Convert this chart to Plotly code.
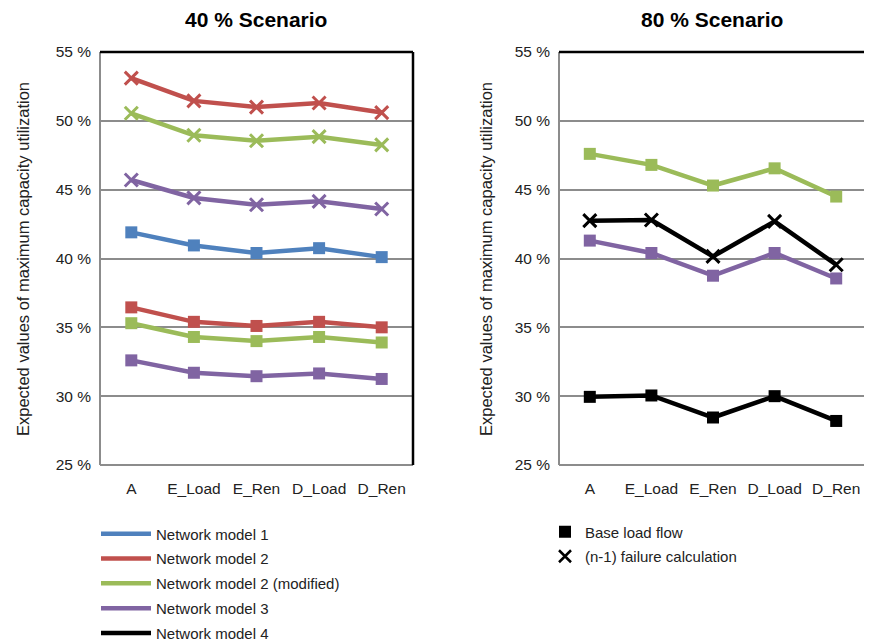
import plotly.graph_objects as go

categories = ["A", "E_Load", "E_Ren", "D_Load", "D_Ren"]

# 40 % scenario
s40_nm1_base = [41.9, 40.95, 40.4, 40.75, 40.1]
s40_nm2_base = [36.45, 35.4, 35.1, 35.4, 35.0]
s40_nm2m_base = [35.3, 34.3, 34.0, 34.3, 33.9]
s40_nm3_base = [32.6, 31.7, 31.45, 31.65, 31.25]
s40_nm2_n1 = [53.1, 51.45, 51.0, 51.3, 50.6]
s40_nm2m_n1 = [50.55, 48.95, 48.55, 48.85, 48.25]
s40_nm3_n1 = [45.7, 44.4, 43.9, 44.15, 43.6]

# 80 % scenario
s80_nm2m_base = [47.6, 46.8, 45.3, 46.55, 44.5]
s80_nm3_base = [41.3, 40.4, 38.75, 40.4, 38.55]
s80_nm4_base = [29.95, 30.05, 28.45, 30.0, 28.2]
s80_nm4_n1 = [42.75, 42.8, 40.15, 42.7, 39.55]

legend_models = ["Network model 1", "Network model 2", "Network model 2 (modified)",
                 "Network model 3", "Network model 4"]
legend_calc = ["Base load flow", "(n-1) failure calculation"]

yticks = [25, 30, 35, 40, 45, 50, 55]
ytick_labels = ["25 %", "30 %", "35 %", "40 %", "45 %", "50 %", "55 %"]

BLUE = "#4F81BD"
RED = "#C0504D"
GREEN = "#9BBB59"
PURPLE = "#8064A2"
BLACK = "#000000"
model_colors = [BLUE, RED, GREEN, PURPLE, BLACK]

FONT = "Liberation Sans"

fig = go.Figure()

def add_series(vals, color, symbol, xa, ya):
    if symbol == "square":
        marker = dict(symbol="square", size=12, color=color)
    else:
        marker = dict(symbol="x-thin", size=13, color=color,
                      line=dict(color=color, width=3))
    fig.add_trace(go.Scatter(
        x=categories, y=vals, mode="lines+markers",
        line=dict(color=color, width=4.5), marker=marker,
        xaxis=xa, yaxis=ya, showlegend=False, hoverinfo="x+y"))

# Left subplot
add_series(s40_nm2_n1, RED, "x", "x", "y")
add_series(s40_nm2m_n1, GREEN, "x", "x", "y")
add_series(s40_nm3_n1, PURPLE, "x", "x", "y")
add_series(s40_nm1_base, BLUE, "square", "x", "y")
add_series(s40_nm2_base, RED, "square", "x", "y")
add_series(s40_nm2m_base, GREEN, "square", "x", "y")
add_series(s40_nm3_base, PURPLE, "square", "x", "y")

# Right subplot
add_series(s80_nm2m_base, GREEN, "square", "x2", "y2")
add_series(s80_nm4_n1, BLACK, "x", "x2", "y2")
add_series(s80_nm3_base, PURPLE, "square", "x2", "y2")
add_series(s80_nm4_base, BLACK, "square", "x2", "y2")

# Legend entries (model colours)
for i, (name, col) in enumerate(zip(legend_models, model_colors)):
    fig.add_trace(go.Scatter(
        x=[None], y=[None], mode="lines", name=name,
        line=dict(color=col, width=4.5), legend="legend",
        legendgroup="m%d" % i, xaxis="x", yaxis="y"))

# Legend entries (calculation type)
fig.add_trace(go.Scatter(
    x=[None], y=[None], mode="markers", name=legend_calc[0],
    marker=dict(symbol="square", size=12, color=BLACK),
    legend="legend2", legendgroup="c0", xaxis="x2", yaxis="y2"))
fig.add_trace(go.Scatter(
    x=[None], y=[None], mode="markers", name=legend_calc[1],
    marker=dict(symbol="x-thin", size=12, color=BLACK, line=dict(color=BLACK, width=2.5)),
    legend="legend2", legendgroup="c1", xaxis="x2", yaxis="y2"))

# page body has an 8px margin, so the figure is offset by 8px
OFF = 8
W, H = 872 - OFF, 642 - OFF
def px_x(p):
    return (p - OFF) / W
def px_y(p):
    return 1 - (p - OFF) / H

dom_y = [px_y(465), px_y(52)]
dom_x1 = [px_x(100), px_x(413)]
dom_x2 = [px_x(559), px_x(867)]

GRID = "#8C8C8C"
tickfont = dict(family=FONT, size=15.5, color="#222222")

xaxis_common = dict(type="category", range=[-0.5, 4.5], showgrid=False,
                    zeroline=False, showline=False, tickfont=tickfont,
                    ticks="", ticklabelstandoff=12)
yaxis_common = dict(range=[25, 55], tickmode="array", tickvals=yticks,
                    ticktext=ytick_labels,
                    showgrid=True, gridcolor=GRID, gridwidth=2,
                    zeroline=False, showline=False, tickfont=tickfont,
                    ticks="", ticklabelstandoff=8)

legend_font = dict(family=FONT, size=15, color="#222222")
fig.update_layout(
    width=W, height=H,
    margin=dict(l=0, r=0, t=0, b=0, autoexpand=False),
    paper_bgcolor="white", plot_bgcolor="white",
    font=dict(family=FONT, color="#222222"),
    xaxis=dict(domain=dom_x1, anchor="y", **xaxis_common),
    yaxis=dict(domain=dom_y, anchor="x", **yaxis_common),
    xaxis2=dict(domain=dom_x2, anchor="y2", **xaxis_common),
    yaxis2=dict(domain=dom_y, anchor="x2", **yaxis_common),
    legend=dict(x=px_x(96), y=px_y(517.5), xanchor="left", yanchor="top",
                font=legend_font, itemwidth=50,
                tracegroupgap=2.3, traceorder="grouped", bgcolor="rgba(0,0,0,0)"),
    legend2=dict(x=px_x(545), y=px_y(515.5), xanchor="left", yanchor="top",
                 font=legend_font,
                 tracegroupgap=2, traceorder="grouped", bgcolor="rgba(0,0,0,0)"),
    showlegend=True,
)

# Plot frames: grey left/bottom, black top/right
for xr, yr in (("x domain", "y domain"), ("x2 domain", "y2 domain")):
    fig.add_shape(type="line", xref=xr, yref=yr, x0=0, x1=0, y0=0, y1=1,
                  line=dict(color=GRID, width=2))
    fig.add_shape(type="line", xref=xr, yref=yr, x0=0, x1=1, y0=0, y1=0,
                  line=dict(color=GRID, width=2))
    fig.add_shape(type="line", xref=xr, yref=yr, x0=0, x1=1, y0=1, y1=1,
                  line=dict(color=BLACK, width=2.5))
    fig.add_shape(type="line", xref=xr, yref=yr, x0=1, x1=1, y0=0, y1=1,
                  line=dict(color=BLACK, width=2.5))

# Titles
for txt, cx in (("40 % Scenario", 256), ("80 % Scenario", 712)):
    fig.add_annotation(text="<b>%s</b>" % txt, x=px_x(cx), y=px_y(20),
                       xref="paper", yref="paper", showarrow=False,
                       xanchor="center", yanchor="middle",
                       font=dict(family=FONT, size=21, color="#000000"))

# Y-axis titles
for cx in (23, 486):
    fig.add_annotation(text="Expected values of maximum capacity utilization",
                       x=px_x(cx), y=px_y(259), xref="paper", yref="paper",
                       showarrow=False, textangle=-90,
                       xanchor="center", yanchor="middle",
                       font=dict(family=FONT, size=16.5, color="#222222"))

fig.write_html("out.html")
